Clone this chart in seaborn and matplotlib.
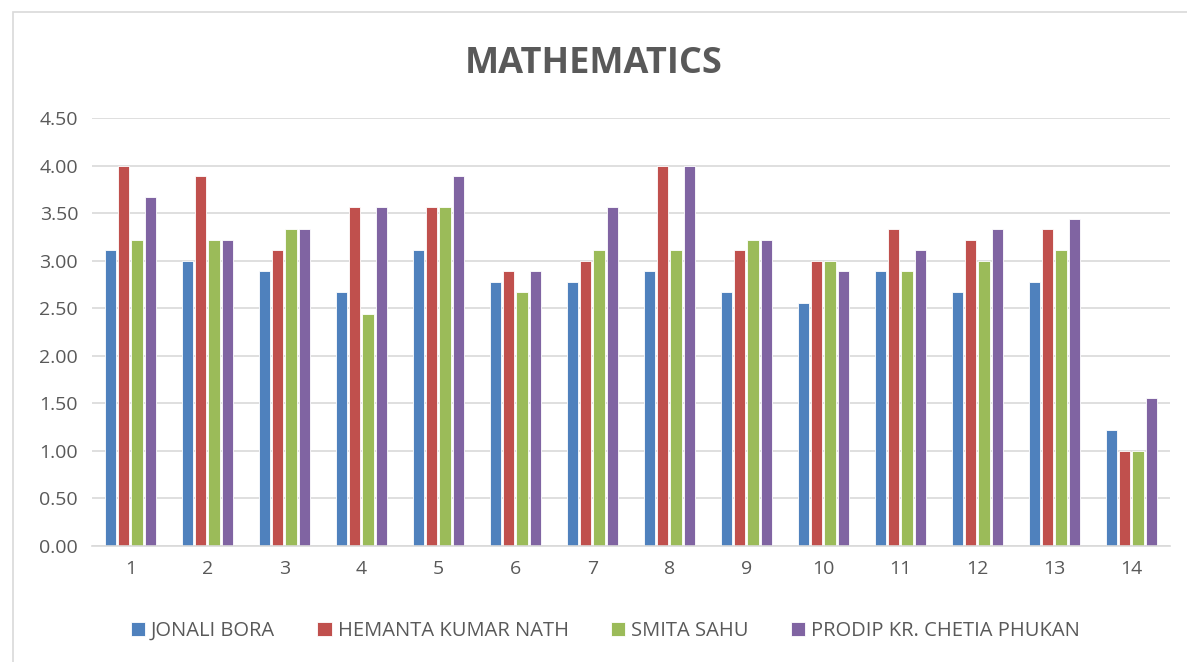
import numpy as np
import pandas as pd
import seaborn as sns
import matplotlib.pyplot as plt
from matplotlib.patches import Rectangle

# data
groups = [str(i) for i in range(1, 15)]
teachers = ["JONALI BORA", "HEMANTA KUMAR NATH", "SMITA SAHU", "PRODIP KR. CHETIA PHUKAN"]
jonali = [3.11, 3.00, 2.89, 2.67, 3.11, 2.78, 2.78, 2.89, 2.67, 2.56, 2.89, 2.67, 2.78, 1.22]
hemanta = [4.00, 3.89, 3.11, 3.56, 3.56, 2.89, 3.00, 4.00, 3.11, 3.00, 3.33, 3.22, 3.33, 1.00]
smita = [3.22, 3.22, 3.33, 2.44, 3.56, 2.67, 3.11, 3.11, 3.22, 3.00, 2.89, 3.00, 3.11, 1.00]
prodip = [3.67, 3.22, 3.33, 3.56, 3.89, 2.89, 3.56, 4.00, 3.22, 2.89, 3.11, 3.33, 3.44, 1.56]
colors = ["#4F81BD", "#C0504D", "#9BBB59", "#8064A2"]

rows = []
for name, vals in zip(teachers, [jonali, hemanta, smita, prodip]):
    for g, v in zip(groups, vals):
        rows.append({"group": g, "teacher": name, "score": v})
df = pd.DataFrame(rows)

sns.set_theme(style="white")
plt.rcParams['font.family'] = ['Open Sans', 'DejaVu Sans']

fig = plt.figure(figsize=(11.87, 6.62), dpi=100)
ax = fig.add_axes([0.0775, 0.1752, 0.908, 0.6466])

sns.barplot(data=df, x="group", y="score", hue="teacher", order=groups,
            hue_order=teachers, palette=colors, saturation=1, width=0.69, gap=0.15,
            edgecolor="white", linewidth=0.6, ax=ax)

ax.set_ylim(0, 4.5)
ax.set_yticks(np.arange(0, 4.51, 0.5))
ax.set_yticklabels([f"{t:.2f}" for t in np.arange(0, 4.51, 0.5)])
ax.yaxis.grid(True, color="#D9D9D9", linewidth=1.2)
ax.set_axisbelow(True)
for s in ["top", "right", "left"]:
    ax.spines[s].set_visible(False)
ax.spines["bottom"].set_color("#D9D9D9")
ax.spines["bottom"].set_linewidth(1.2)
ax.tick_params(axis="both", length=0, labelsize=14, labelcolor="#595959", pad=10)
ax.set_xlabel("")
ax.set_ylabel("")

fig.suptitle("MATHEMATICS", y=0.93, fontsize=26, fontweight="bold", color="#595959")

handles, labels = ax.get_legend_handles_labels()
ax.legend(handles, labels, loc="center", bbox_to_anchor=(0.51, 0.047),
          bbox_transform=fig.transFigure, ncol=4, frameon=False,
          fontsize=14.5, labelcolor="#595959", handlelength=0.7, handleheight=0.7,
          handletextpad=0.3, columnspacing=2.1)

fig.patches.append(Rectangle((0.011, -0.01), 1.0, 0.992, transform=fig.transFigure,
                             fill=False, edgecolor="#D9D9D9", linewidth=1.2))

fig.savefig("out.png", dpi=100)
